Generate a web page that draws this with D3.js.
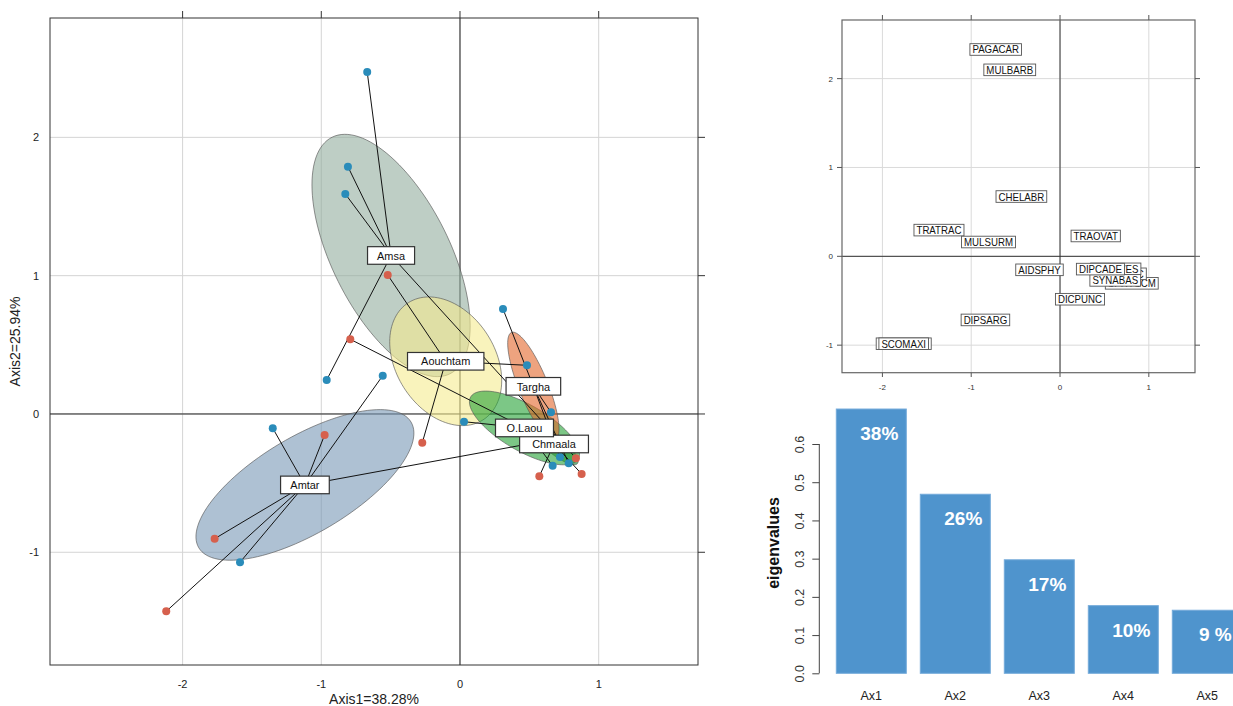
<!DOCTYPE html>
<html>
<head>
<meta charset="utf-8">
<script src="https://cdn.jsdelivr.net/npm/d3@7"></script>
<style>
body{margin:0;background:#fff}
svg{display:block;font-family:"Liberation Sans",Arial,Helvetica,sans-serif}
</style>
</head>
<body>
<script>
// sites (groups): centroid + ellipse parameters, in axis units
var siteNames = ["Amsa","Amtar","Aouchtam","Chmaala","O.Laou","Targha"];
var siteX = [-0.497,-1.118,-0.103,0.678,0.465,0.529];
var siteY = [1.146,-0.513,0.381,-0.217,-0.101,0.200];
var ellA = [0.955,0.89,0.502,0.22,0.448,0.42];
var ellB = [0.425,0.349,0.357,0.065,0.167,0.105];
var ellAngle = [-63.6,30.7,-57.7,-40,-30,-68];

// samples
var ptX = [-0.669,-0.808,-0.827,-0.961,0.836, -0.557,-1.350,-1.586,-0.976,-1.769,-2.118,0.53,
           -0.521,-0.272,0.483, 0.572,0.877,0.62,0.80, 0.029,-0.791,0.668, 0.310,0.656,0.784,0.721];
var ptY = [2.473,1.788,1.591,0.246,-0.320, 0.277,-0.103,-1.072,-0.152,-0.902,-1.427,-0.21,
           1.005,-0.208,0.352, -0.450,-0.434,-0.21,-0.23, -0.056,0.540,-0.374, 0.759,0.012,-0.356,-0.311];
var ptSite = ["Amsa","Amsa","Amsa","Amsa","Amsa",
              "Amtar","Amtar","Amtar","Amtar","Amtar","Amtar","Amtar",
              "Aouchtam","Aouchtam","Aouchtam",
              "Chmaala","Chmaala","Chmaala","Chmaala",
              "O.Laou","O.Laou","O.Laou",
              "Targha","Targha","Targha","Targha"];
var ptSeason = ["S1","S1","S1","S1","S2",
                "S1","S1","S1","S2","S2","S2","S1",
                "S2","S2","S1",
                "S2","S2","S1","S2",
                "S1","S2","S1",
                "S1","S1","S1","S1"];

// species scores
var spNames = ["PAGACAR","MULBARB","CHELABR","TRATRAC","MULSURM","TRAOVAT","AIDSPHY","DICPUNC","DIPSARG",
               "SCOMSCO","SCOMAXI","SPHYSCM","SPARAUC","SOLEVES","SYNABAS","DIPCADE"];
var spX = [-0.724,-0.566,-0.435,-1.363,-0.805,0.402,-0.231,0.225,-0.840,
           -1.760,-1.760,0.808,0.684,0.628,0.622,0.455];
var spY = [2.328,2.099,0.673,0.295,0.161,0.229,-0.152,-0.483,-0.716,
           -0.984,-0.984,-0.304,-0.197,-0.141,-0.271,-0.144];

// eigenvalues
var axisNames = ["Ax1","Ax2","Ax3","Ax4","Ax5"];
var eigenValues = [0.6915,0.4685,0.297,0.177,0.165];
var eigenLabels = ["38%","26%","17%","10%","9 %"];

var siteColor = {"Amsa":"#93ad9e","Amtar":"#7897b5","Aouchtam":"#f5eb8f","Chmaala":"#12812a","O.Laou":"#25a236","Targha":"#e2662a"};
var seasonColor = {"S1":"#2a8cba","S2":"#d6604d"};

var svg = d3.select("body").append("svg").attr("width",1233).attr("height",706);

// ---------- main panel ----------
var x = d3.scaleLinear().domain([-2.956,1.716]).range([50,698]);
var y = d3.scaleLinear().domain([-1.815,2.863]).range([665,18]);
var ticks = [-2,-1,0,1,2];

var main = svg.append("g");
main.append("clipPath").attr("id","clipMain").append("rect")
  .attr("x",50).attr("y",18).attr("width",648).attr("height",647);

var inner = main.append("g").attr("clip-path","url(#clipMain)");
inner.selectAll(".gx").data(ticks).enter().append("line")
  .attr("x1",function(d){return x(d);}).attr("x2",function(d){return x(d);})
  .attr("y1",18).attr("y2",665).attr("stroke","#d4d4d4").attr("stroke-width",1);
inner.selectAll(".gy").data(ticks).enter().append("line")
  .attr("y1",function(d){return y(d);}).attr("y2",function(d){return y(d);})
  .attr("x1",50).attr("x2",698).attr("stroke","#d4d4d4").attr("stroke-width",1);
inner.append("line").attr("x1",x(0)).attr("x2",x(0)).attr("y1",18).attr("y2",665).attr("stroke","#222");
inner.append("line").attr("y1",y(0)).attr("y2",y(0)).attr("x1",50).attr("x2",698).attr("stroke","#222");

function ellipsePath(cx,cy,a,b,ang,sx,sy){
  var th = ang*Math.PI/180;
  var pts = d3.range(0,360,3).map(function(t){
    var r = t*Math.PI/180, ex = a*Math.cos(r), ey = b*Math.sin(r);
    return [sx(cx+ex*Math.cos(th)-ey*Math.sin(th)), sy(cy+ex*Math.sin(th)+ey*Math.cos(th))];
  });
  return d3.line().curve(d3.curveLinearClosed)(pts);
}

siteNames.forEach(function(s,i){
  inner.append("path")
    .attr("d",ellipsePath(siteX[i],siteY[i],ellA[i],ellB[i],ellAngle[i],x,y))
    .attr("fill",siteColor[s]).attr("fill-opacity",0.6)
    .attr("stroke","#555").attr("stroke-opacity",0.8).attr("stroke-width",0.8);
});

// stars: centroid -> sample
ptX.forEach(function(px,i){
  var k = siteNames.indexOf(ptSite[i]);
  inner.append("line")
    .attr("x1",x(siteX[k])).attr("y1",y(siteY[k]))
    .attr("x2",x(px)).attr("y2",y(ptY[i]))
    .attr("stroke","#111").attr("stroke-width",1);
});
ptX.forEach(function(px,i){
  inner.append("circle").attr("cx",x(px)).attr("cy",y(ptY[i])).attr("r",4)
    .attr("fill",seasonColor[ptSeason[i]]);
});

// site labels
siteNames.forEach(function(s,i){
  var g = inner.append("g");
  var t = g.append("text").attr("x",x(siteX[i])).attr("y",y(siteY[i])+4.2)
    .attr("text-anchor","middle").attr("font-size",11.5).attr("fill","#111").text(s);
  var tw = t.node().getComputedTextLength()*0.95;
  t.attr("textLength",tw).attr("lengthAdjust","spacingAndGlyphs");
  var w = tw*1.38+8.5;
  g.insert("rect","text").attr("x",x(siteX[i])-w/2).attr("y",y(siteY[i])-8.8)
    .attr("width",w).attr("height",17.6).attr("fill","#fff")
    .attr("stroke","#333").attr("stroke-width",1.2);
});

main.append("rect").attr("x",50).attr("y",18).attr("width",648).attr("height",647)
  .attr("fill","none").attr("stroke","#333").attr("stroke-width",1);

var xt = [-2,-1,0,1], yt = [-1,0,1,2];
main.selectAll(".tt").data(xt).enter().append("line")
  .attr("x1",function(d){return x(d);}).attr("x2",function(d){return x(d);})
  .attr("y1",11).attr("y2",18).attr("stroke","#333");
main.selectAll(".tr").data(yt).enter().append("line")
  .attr("y1",function(d){return y(d);}).attr("y2",function(d){return y(d);})
  .attr("x1",698).attr("x2",705).attr("stroke","#333");
main.selectAll(".lx").data(xt).enter().append("text")
  .attr("x",function(d){return x(d);}).attr("y",687.5).attr("text-anchor","middle")
  .attr("font-size",11).attr("fill","#222").text(function(d){return d;});
main.selectAll(".ly").data(yt).enter().append("text")
  .attr("x",39).attr("y",function(d){return y(d)+4;}).attr("text-anchor","end")
  .attr("font-size",11).attr("fill","#222").text(function(d){return d;});
main.append("text").attr("x",374).attr("y",704).attr("text-anchor","middle")
  .attr("font-size",14).attr("fill","#222").text("Axis1=38.28%");
main.append("text").attr("transform","translate(20,341.5) rotate(-90)").attr("text-anchor","middle")
  .attr("font-size",14).attr("fill","#222").text("Axis2=25.94%");

// ---------- species panel ----------
var sx = d3.scaleLinear().domain([-2.455,1.52]).range([842,1195]);
var sy = d3.scaleLinear().domain([-1.31,2.66]).range([372.7,20]);
var sp = svg.append("g");
sp.append("clipPath").attr("id","clipSp").append("rect")
  .attr("x",842).attr("y",20).attr("width",353).attr("height",352.7);
var spIn = sp.append("g").attr("clip-path","url(#clipSp)");
spIn.selectAll(".gx").data(xt).enter().append("line")
  .attr("x1",function(d){return sx(d);}).attr("x2",function(d){return sx(d);})
  .attr("y1",20).attr("y2",373).attr("stroke","#dadada");
spIn.selectAll(".gy").data(yt).enter().append("line")
  .attr("y1",function(d){return sy(d);}).attr("y2",function(d){return sy(d);})
  .attr("x1",842).attr("x2",1195).attr("stroke","#dadada");
spIn.append("line").attr("x1",sx(0)).attr("x2",sx(0)).attr("y1",20).attr("y2",373).attr("stroke","#333");
spIn.append("line").attr("y1",sy(0)).attr("y2",sy(0)).attr("x1",842).attr("x2",1195).attr("stroke","#333");

spNames.forEach(function(s,i){
  var g = spIn.append("g");
  var t = g.append("text").attr("x",sx(spX[i])).attr("y",sy(spY[i])+4)
    .attr("text-anchor","middle").attr("font-size",11).attr("fill","#111").text(s);
  var tw = t.node().getComputedTextLength()*0.88;
  t.attr("textLength",tw).attr("lengthAdjust","spacingAndGlyphs");
  var w = tw+5;
  g.insert("rect","text").attr("x",sx(spX[i])-w/2).attr("y",sy(spY[i])-5.8)
    .attr("width",w).attr("height",11.6).attr("fill","#fff")
    .attr("stroke","#555").attr("stroke-width",0.9);
});

sp.append("rect").attr("x",842).attr("y",20).attr("width",353).attr("height",352.7)
  .attr("fill","none").attr("stroke","#666").attr("stroke-width",1.2);
sp.selectAll(".tb").data(xt).enter().append("line")
  .attr("x1",function(d){return sx(d);}).attr("x2",function(d){return sx(d);})
  .attr("y1",372.7).attr("y2",377).attr("stroke","#555");
sp.selectAll(".tt").data(xt).enter().append("line")
  .attr("x1",function(d){return sx(d);}).attr("x2",function(d){return sx(d);})
  .attr("y1",15).attr("y2",20).attr("stroke","#555");
sp.selectAll(".tl").data(yt).enter().append("line")
  .attr("y1",function(d){return sy(d);}).attr("y2",function(d){return sy(d);})
  .attr("x1",837).attr("x2",842).attr("stroke","#555");
sp.selectAll(".tr").data(yt).enter().append("line")
  .attr("y1",function(d){return sy(d);}).attr("y2",function(d){return sy(d);})
  .attr("x1",1195).attr("x2",1200).attr("stroke","#555");
sp.selectAll(".lx").data(xt).enter().append("text")
  .attr("x",function(d){return sx(d);}).attr("y",390).attr("text-anchor","middle")
  .attr("font-size",8).attr("fill","#333").text(function(d){return d;});
sp.selectAll(".ly").data(yt).enter().append("text")
  .attr("x",833).attr("y",function(d){return sy(d)+3;}).attr("text-anchor","end")
  .attr("font-size",8).attr("fill","#333").text(function(d){return d;});

// ---------- eigenvalue barplot ----------
var bx = d3.scaleBand().domain(axisNames).range([836.3,1242.3]).paddingInner(1/6).paddingOuter(0);
var by = d3.scaleLinear().domain([0,0.6]).range([673.3,444]);
var bar = svg.append("g");
bar.selectAll(".bar").data(eigenValues).enter().append("rect")
  .attr("x",function(d,i){return bx(axisNames[i]);})
  .attr("y",function(d){return by(d);})
  .attr("width",bx.bandwidth())
  .attr("height",function(d){return by(0)-by(d);})
  .attr("fill","#4f94cd").attr("stroke","#74aada").attr("stroke-width",1);
bar.selectAll(".pct").data(eigenLabels).enter().append("text")
  .attr("x",function(d,i){return bx(axisNames[i])+bx.bandwidth()/2+8;})
  .attr("y",function(d,i){return by(eigenValues[i])+31;})
  .attr("text-anchor","middle").attr("font-size",19).attr("font-weight","bold")
  .attr("fill","#fff").text(function(d){return d;});
bar.selectAll(".xl").data(axisNames).enter().append("text")
  .attr("x",function(d){return bx(d)+bx.bandwidth()/2;}).attr("y",700)
  .attr("text-anchor","middle").attr("font-size",12.5).attr("fill","#222").text(function(d){return d;});

var yAxis = d3.axisLeft(by).tickValues([0,0.1,0.2,0.3,0.4,0.5,0.6]).tickFormat(d3.format(".1f")).tickSize(7);
var ya = bar.append("g").attr("transform","translate(819.3,0)").call(yAxis);
ya.select(".domain").attr("stroke","#444").attr("d","M-0,444V673.3");
ya.selectAll(".tick line").attr("stroke","#444");
ya.selectAll(".tick text")
  .attr("font-size",12.5).attr("fill","#333").attr("font-family","Liberation Sans, Arial, sans-serif")
  .attr("transform","rotate(-90)").attr("x",0).attr("y",-15).attr("dy","0")
  .attr("text-anchor","middle");
bar.append("text").attr("transform","translate(779,543) rotate(-90)").attr("text-anchor","middle")
  .attr("font-size",16).attr("font-weight","bold").attr("fill","#111").text("eigenvalues");
</script>
</body>
</html>
